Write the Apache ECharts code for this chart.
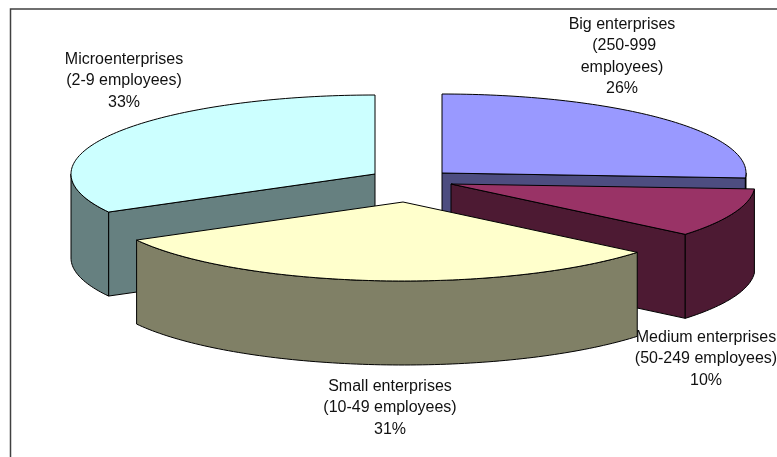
<!DOCTYPE html>
<html>
<head>
<meta charset="utf-8">
<style>html,body{margin:0;padding:0;background:#fff}#c{width:777px;height:457px}</style>
<script src="https://cdn.jsdelivr.net/npm/echarts@6/dist/echarts.min.js"></script>
</head>
<body>
<div id="c"></div>
<script>
// Data
const categories = ['Big enterprises\n\u00A0(250-999\nemployees)', 'Medium enterprises\n(50-249 employees)', 'Small enterprises\n(10-49 employees)', 'Microenterprises\n(2-9 employees)'];
const shares = [26, 10, 31, 33];

// Styles and layout of the exploded 3D pie
const topColors = ['#9999FF', '#993366', '#FFFFCC', '#CCFFFF'];
const sideColors = ['#4D4D80', '#4D1A33', '#808066', '#668080'];
const apexes = [[442, 173], [451, 184], [403, 202], [375, 174]];
const labelCenters = [[622, 56.5], [706, 359], [390, 408], [124, 81]];
const paintOrder = [0, 3, 1, 2];
const RX = 304, RY = 79, DEPTH = 84;
const total = shares.reduce((a, b) => a + b, 0);

function rim(c, t, dy) {
  return [c[0] + RX * Math.sin(t), c[1] - RY * Math.cos(t) + (dy || 0)];
}
function arc(c, a, b, dy) {
  const n = Math.max(2, Math.ceil((b - a) / 0.02)), pts = [];
  for (let i = 0; i <= n; i++) pts.push(rim(c, a + (b - a) * i / n, dy));
  return pts;
}
function poly(points, fill, z2, width) {
  return { type: 'polygon', z2, shape: { points },
    style: { fill, stroke: '#000', lineWidth: width || 1, lineJoin: 'round' } };
}
function renderItem(params, api) {
  const i = params.dataIndex;
  let before = 0;
  for (let k = 0; k < i; k++) before += shares[k];
  const a = before / total * 2 * Math.PI;
  const b = a + api.value(0) / total * 2 * Math.PI;
  const c = apexes[i], base = paintOrder.indexOf(i) * 10;
  const side = sideColors[i];
  const kids = [];
  const radial = t => {
    const p = rim(c, t);
    return poly([c, p, [p[0], p[1] + DEPTH], [c[0], c[1] + DEPTH]], side, base + 1);
  };
  if (Math.sin(a) < -1e-6) kids.push(radial(a));
  if (Math.sin(b) > 1e-6) kids.push(radial(b));
  const w0 = Math.max(a, Math.PI / 2), w1 = Math.min(b, 1.5 * Math.PI);
  if (w1 > w0) {
    kids.push(poly(arc(c, w0, w1, 0).concat(arc(c, w0, w1, DEPTH).reverse()), side, base + 2));
  }
  kids.push(poly([c].concat(arc(c, a, b, 0)), topColors[i], base + 3));
  kids.push({ type: 'text', z2: 100,
    style: {
      text: categories[i] + '\n' + Math.round(api.value(0) / total * 100) + '%',
      x: labelCenters[i][0], y: labelCenters[i][1],
      align: 'center', verticalAlign: 'middle', fill: '#111',
      font: '16px "Liberation Sans", Arial, sans-serif', lineHeight: 21.5
    } });
  return { type: 'group', children: kids };
}

const chart = echarts.init(document.getElementById('c'), null, { renderer: 'canvas' });
chart.setOption({
  animation: false,
  backgroundColor: '#fff',
  graphic: [{ type: 'polyline', silent: true,
    shape: { points: [[10.5, 460], [10.5, 9], [780, 9]] },
    style: { stroke: '#404040', lineWidth: 1.5, fill: null } }],
  series: [{
    type: 'custom',
    coordinateSystem: 'none',
    silent: true,
    renderItem,
    data: shares.map(v => [v])
  }]
});
</script>
</body>
</html>
